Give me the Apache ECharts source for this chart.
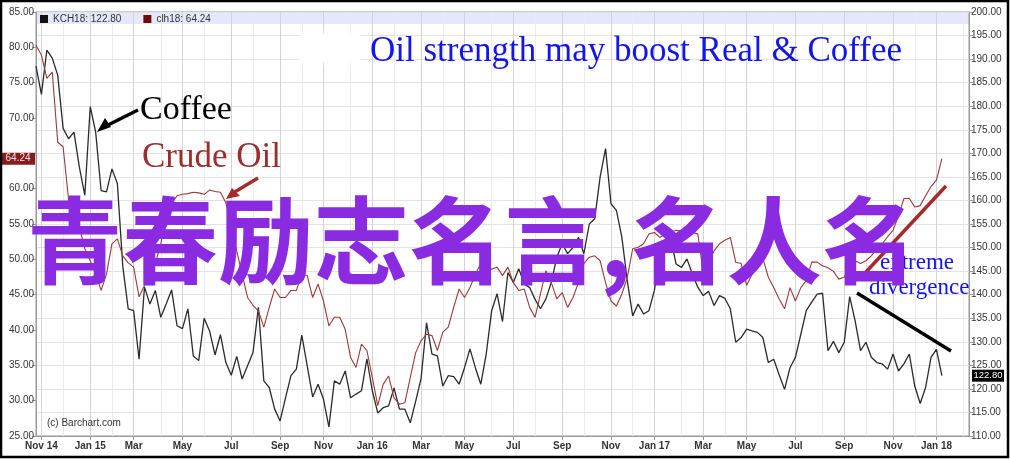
<!DOCTYPE html>
<html><head><meta charset="utf-8">
<script src="https://cdn.jsdelivr.net/npm/echarts@6/dist/echarts.min.js"></script>
<style>html,body{margin:0;padding:0;background:#fff}#c{width:1010px;height:460px}</style>
</head><body><div id="c"></div>
<script>
// ---- data ----
const firstWeek = '2014-10-24';       // first weekly category (Friday)
const weekCount = 173;                // categories span to the right plot edge
const monthNames = ['Jan','Feb','Mar','Apr','May','Jun','Jul','Aug','Sep','Oct','Nov','Dec'];
const coffeeName = 'KCH18';
const oilName = 'clh18';
const coffee = [
188.5,182.5,191.9,190.2,186.6,175.3,173.1,174.5,167,161.1,
179.9,174.5,162.1,161.8,166.7,163.6,146,137,136.6,126.3,
141.6,138,140.9,135.2,138,141,133.4,132.8,137,127,
126,135,132.3,127.2,131.5,125.6,122.9,126.9,122.1,124.9,
127.7,137.3,121.7,120.3,115.7,113.2,118.1,122.8,124.2,131.4,
124.9,118.3,121,117.8,111.9,121.7,121,123.8,118.1,118.9,
119.6,126.4,119.6,114.9,116,116.4,120.2,115.7,115.7,112.8,
117.4,122.3,134,127.4,127,120.6,122.8,122.6,121,124.5,
128.5,124.5,121,127.4,136.6,140.2,134.3,144.7,142.6,145.5,
142.3,141.5,139,137,139.1,142.6,147.9,150.8,148.7,150,
152.2,148.7,155,156.1,165,171,159.3,157.9,152.2,143,
135.5,138,135.9,136.6,140.9,147.9,151.5,152,146.5,145.8,
147.6,144.4,141.6,139.8,140.7,137.7,139.8,139.2,137,129.9,
130.9,132.7,132.3,132,130.9,125.6,126.3,123,119.9,124.5,
126.7,131.6,136.6,138.4,140.1,140.3,128.1,130.1,127.7,129.9,
139.6,134.5,128.1,129.9,126.7,125.6,125.3,124.2,127.4,123.8,
125.3,127.4,120.6,116.9,120.3,126.7,128.4,122.8];
const oil = [
80.3,78.9,75.6,76.5,66.6,65.9,58.5,55,54.5,51.5,
49.8,48,45.6,47.9,52.2,52.9,50.5,49.5,48.9,44.7,
46.3,48.4,49.4,52.2,56,57.9,59,59.2,59.3,59.5,
59.4,59.2,59.8,59.6,59.5,58,55,51.2,47.9,44.6,
43.5,42.7,40.4,43.2,45.8,44.6,44.6,45.6,45.6,47.9,
47.7,44.6,46.5,44.1,40.6,41.8,41.8,40.1,36.1,34.7,
38,37.1,33.3,29.3,32.3,33.5,30.4,29.5,29.7,33.3,
36.8,38.5,39.4,39.2,37.1,39.7,40.4,43.2,45.8,44.6,
46,47.9,49.4,49.1,48.6,48.9,47.7,48.9,46.7,45.6,
45.8,43.2,41.8,45.1,48.4,46.7,44.4,45.3,43.2,44.6,
46.7,49.4,50.3,50.5,49.8,46.7,44.1,43.4,45.1,47.4,
51.5,51.7,52.2,53.6,53.8,53.1,53.6,53.8,54.1,54,
53.8,53.8,53.6,48.2,49.4,51.2,52.2,52.7,53.1,49.6,
49.4,46.3,47.9,51,50.1,47.5,46,44.4,43,46,
44.1,46,47,49.6,49.6,49.1,48.8,48.3,47.2,47.5,
48.9,49.8,49.4,49.8,50.5,51.5,52.2,53.2,54.1,56.2,
58.6,58.6,57.4,57.6,59,60.3,61.2,64.24];
const leftAxisRange = [25, 85, 5];
const rightAxisRange = [110, 200, 5];
const hiddenLeftLabels = [65];
const titleText = 'Oil strength may boost Real & Coffee';
const overlayText = '青春励志名言,名人名';

// ---- categories ----
const DAY = 86400000;
const t0 = Date.parse(firstWeek + 'T00:00:00Z');
const cats = [], monthAt = [], yearAt = [];
for (let i = 0; i < weekCount; i++) {
  const t = t0 + i * 7 * DAY;
  const d = new Date(t);
  cats.push(d.toISOString().slice(0, 10));
  let m = -1, y = 0;
  for (let k = -3; k <= 3; k++) {
    const dd = new Date(t + k * DAY);
    if (dd.getUTCDate() === 1) { m = dd.getUTCMonth(); y = dd.getUTCFullYear(); }
  }
  monthAt.push(m); yearAt.push(y);
}
let firstLabel = -1;
for (let i = 0; i < weekCount; i++) if (monthAt[i] >= 0 && monthAt[i] % 2 === 0) { firstLabel = i; break; }
const isLabel = i => monthAt[i] >= 0 && monthAt[i] % 2 === 0;
const isMonth = i => monthAt[i] >= 0;

const serif = '"Liberation Serif","Times New Roman",serif';
const sans = '"Liberation Sans",Arial,sans-serif';

const chart = echarts.init(document.getElementById('c'), null, {renderer: 'canvas'});
const option = {
  animation: false,
  backgroundColor: '#fff',
  grid: {left: 36, right: 41, top: 12, bottom: 24, show: true, borderColor: '#999', borderWidth: 1},
  legend: {
    left: 40, top: 14, padding: 0, itemGap: 22, itemWidth: 8, itemHeight: 8, icon: 'rect',
    textStyle: {fontSize: 10, color: '#333', fontFamily: sans},
    data: [{name: coffeeName, itemStyle: {color: '#111'}}, {name: oilName, itemStyle: {color: '#6e0a0a'}}],
    formatter: n => n + ': ' + (n === coffeeName ? coffee[coffee.length - 1].toFixed(2) : oil[oil.length - 1].toFixed(2))
  },
  xAxis: {
    type: 'category', data: cats, boundaryGap: false,
    axisLine: {lineStyle: {color: '#999'}},
    axisTick: {show: true, interval: isLabel, length: 4, lineStyle: {color: '#999'}},
    axisLabel: {
      interval: isLabel, fontSize: 10, fontWeight: 'bold', color: '#333', fontFamily: sans, margin: 5,
      formatter: (v, i) => {
        const m = monthAt[i];
        return (m === 0 || i === firstLabel) ? monthNames[m] + ' ' + String(yearAt[i]).slice(2) : monthNames[m];
      }
    },
    splitLine: {show: true, interval: isMonth, lineStyle: {color: ['#d4d4d4', '#ebebeb'], width: 1}}
  },
  yAxis: [
    {type: 'value', position: 'left', min: leftAxisRange[0], max: leftAxisRange[1], interval: leftAxisRange[2],
     axisLine: {show: true, lineStyle: {color: '#999'}},
     axisTick: {show: true, length: 4, lineStyle: {color: '#999'}},
     axisLabel: {fontSize: 10, color: '#333', fontFamily: sans, margin: 2,
       formatter: v => hiddenLeftLabels.includes(v) ? '' : v.toFixed(2)},
     splitLine: {show: false}},
    {type: 'value', position: 'right', min: rightAxisRange[0], max: rightAxisRange[1], interval: rightAxisRange[2],
     axisLine: {show: true, lineStyle: {color: '#999'}},
     axisTick: {show: true, length: 4, lineStyle: {color: '#999'}},
     axisLabel: {fontSize: 10, color: '#333', fontFamily: sans, margin: 2, formatter: v => v.toFixed(2)},
     splitLine: {show: true, lineStyle: {color: '#e3e3e3'}}}
  ],
  series: [
    {name: coffeeName, type: 'line', yAxisIndex: 1, data: coffee, showSymbol: false, symbol: 'none',
     lineStyle: {color: '#2a2a2a', width: 1.3}, itemStyle: {color: '#2a2a2a'}, z: 3},
    {name: oilName, type: 'line', yAxisIndex: 0, data: oil, showSymbol: false, symbol: 'none',
     lineStyle: {color: '#9a3a3a', width: 1.1}, itemStyle: {color: '#9a3a3a'}, z: 4}
  ]
};
chart.setOption(option);

const yOil = chart.convertToPixel({yAxisIndex: 0}, oil[oil.length - 1]);
const yCof = chart.convertToPixel({yAxisIndex: 1}, coffee[coffee.length - 1]);

function txt(text, x, y, size, color, family, extra) {
  return Object.assign({type: 'text', z: 50, style: {text: text, x: x, y: y, fill: color,
    font: size + 'px ' + family, textVerticalAlign: 'middle', verticalAlign: 'middle'}}, extra || {});
}
function ctxt(text, x, y, size, color) {
  return {type: 'text', z: 61, style: {text: text, x: x, y: y, fill: color, font: size + 'px ' + sans,
    textAlign: 'center', align: 'center', textVerticalAlign: 'middle', verticalAlign: 'middle'}};
}
chart.setOption({
  graphic: [
    {type: 'rect', z: -1, shape: {x: 37, y: 13, width: 932, height: 11}, style: {fill: 'rgba(210,210,250,0.55)'}},
    {type: 'rect', z: 40, shape: {x: 300, y: 34, width: 60, height: 28}, style: {fill: '#fff', shadowBlur: 8, shadowColor: '#fff'}},
    txt(titleText, 370, 52, 35, '#1414ee', serif),
    txt('Coffee', 140, 110, 34, '#000', serif),
    txt('Crude Oil', 142, 158, 35, '#9b2d2d', serif),
    txt('extreme', 880, 263, 23, '#1414ee', serif),
    txt('divergence', 869, 288, 23, '#1414ee', serif),
    {type: 'line', z: 45, shape: {x1: 138, y1: 110, x2: 104, y2: 127}, style: {stroke: '#000', lineWidth: 3.3}},
    {type: 'polygon', z: 45, shape: {points: [[97, 132], [105, 118], [111, 127]]}, style: {fill: '#000'}},
    {type: 'line', z: 45, shape: {x1: 258, y1: 178, x2: 233, y2: 193}, style: {stroke: '#a52a2a', lineWidth: 3.3}},
    {type: 'polygon', z: 45, shape: {points: [[226, 199], [232, 188], [240, 196]]}, style: {fill: '#a52a2a'}},
    {type: 'line', z: 45, shape: {x1: 865, y1: 273, x2: 946, y2: 186}, style: {stroke: '#a52a2a', lineWidth: 3.5}},
    {type: 'line', z: 45, shape: {x1: 857, y1: 293, x2: 951, y2: 351}, style: {stroke: '#000', lineWidth: 3.3}},
    txt('(c) Barchart.com', 47, 423, 10, '#333', sans),
    {type: 'rect', z: 60, shape: {x: 1, y: yOil - 6, width: 34, height: 12}, style: {fill: '#851d1d'}},
    ctxt(oil[oil.length - 1].toFixed(2), 18, yOil, 10, '#fde'),
    {type: 'rect', z: 60, shape: {x: 972, y: yCof - 6, width: 32, height: 12}, style: {fill: '#000'}},
    ctxt(coffee[coffee.length - 1].toFixed(2), 988, yCof, 9.5, '#fff'),
    {type: 'text', z: 70, style: {text: overlayText, x: 27, y: 241, fill: '#8a2be2',
      font: 'bold 95.5px "Noto Sans CJK SC",sans-serif', textVerticalAlign: 'middle', verticalAlign: 'middle'}},
    {type: 'rect', z: 100, shape: {x: 1, y: 1, width: 1007, height: 456}, style: {fill: 'none', stroke: '#000', lineWidth: 2.5}}
  ]
});
</script></body></html>
